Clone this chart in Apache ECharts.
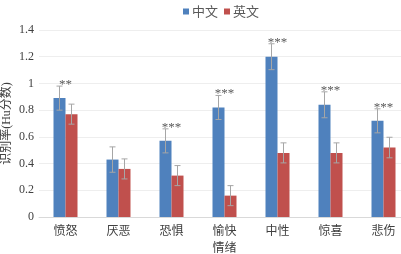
<!DOCTYPE html>
<html>
<head>
<meta charset="utf-8">
<script src="https://cdn.jsdelivr.net/npm/echarts@6/dist/echarts.min.js"></script>
<style>
  html, body { margin: 0; padding: 0; background: #fff; }
  #chart { width: 401px; height: 254px; }
</style>
</head>
<body>
<div id="chart"></div>
<script>
// categories and values
const categories = ['愤怒', '厌恶', '恐惧', '愉快', '中性', '惊喜', '悲伤']
const zhValues = [0.89, 0.43, 0.57, 0.82, 1.20, 0.84, 0.72]
const enValues = [0.77, 0.36, 0.31, 0.16, 0.48, 0.48, 0.52]
const zhErrors = [0.09, 0.095, 0.09, 0.09, 0.097, 0.097, 0.09]
const enErrors = [0.075, 0.075, 0.075, 0.075, 0.075, 0.075, 0.077]
const sigMarks = ['**', '', '***', '***', '***', '***', '***']

const serif = '"Liberation Serif", "Noto Sans CJK SC", serif'
const cjk = '"Noto Sans CJK SC", sans-serif'
const barWidth = 12

// draws an error bar (and optional star label) above one bar of the pair
function errorBars(values, errors, side, marks) {
  return {
    type: 'custom',
    silent: true,
    z: 5,
    data: values.map((v, i) => [i, v, errors[i]]),
    renderItem(params, api) {
      const i = api.value(0)
      const v = api.value(1)
      const e = api.value(2)
      const base = api.coord([i, v])
      const top = api.coord([i, v + e])
      const bottom = api.coord([i, v - e])
      const x = base[0] + side * barWidth / 2
      const cap = 3
      const children = [
        { type: 'line', shape: { x1: x, y1: top[1], x2: x, y2: bottom[1] }, style: { stroke: '#a6a6a6', lineWidth: 1 } },
        { type: 'line', shape: { x1: x - cap, y1: top[1], x2: x + cap, y2: top[1] }, style: { stroke: '#a6a6a6', lineWidth: 1 } },
        { type: 'line', shape: { x1: x - cap, y1: bottom[1], x2: x + cap, y2: bottom[1] }, style: { stroke: '#a6a6a6', lineWidth: 1 } }
      ]
      if (marks && marks[i]) {
        children.push({
          type: 'text',
          style: {
            text: marks[i],
            x: base[0],
            y: top[1] + 5,
            align: 'center',
            verticalAlign: 'bottom',
            fill: '#595959',
            font: '13px ' + serif
          }
        })
      }
      return { type: 'group', children }
    }
  }
}

const chart = echarts.init(document.getElementById('chart'))
chart.setOption({
  animation: false,
  legend: {
    data: ['中文', '英文'],
    top: 0,
    left: 178,
    itemWidth: 6,
    itemHeight: 6,
    itemGap: 6,
    icon: 'rect',
    textStyle: { color: '#595959', fontSize: 13, fontFamily: cjk, padding: [0, 0, 0, -2] }
  },
  grid: {
    left: 39,
    right: -9,
    top: 30,
    bottom: 37,
    outerBoundsMode: 'none'
  },
  xAxis: {
    type: 'category',
    data: categories,
    name: '情绪',
    nameLocation: 'middle',
    nameGap: 24,
    nameMoveOverlap: false,
    nameTextStyle: { color: '#404040', fontSize: 12, fontFamily: cjk },
    axisLine: { lineStyle: { color: '#d9d9d9' } },
    axisTick: { show: false },
    axisLabel: { color: '#404040', fontSize: 12, fontFamily: cjk, margin: 7 }
  },
  yAxis: {
    type: 'value',
    min: 0,
    max: 1.4,
    interval: 0.2,
    name: '识别率(Hu分数)',
    nameLocation: 'middle',
    nameGap: 26,
    nameMoveOverlap: false,
    nameTextStyle: { color: '#404040', fontSize: 12, fontFamily: serif },
    axisLine: { show: false },
    axisTick: { show: false },
    axisLabel: { color: '#404040', fontSize: 12, fontFamily: serif, margin: 5 },
    splitLine: { lineStyle: { color: '#eeeeee' } }
  },
  series: [
    {
      name: '中文',
      type: 'bar',
      data: zhValues,
      barWidth: barWidth,
      barGap: 0,
      itemStyle: { color: '#4f81bd' }
    },
    {
      name: '英文',
      type: 'bar',
      data: enValues,
      barWidth: barWidth,
      barGap: 0,
      itemStyle: { color: '#c0504d' }
    },
    errorBars(zhValues, zhErrors, -1, sigMarks),
    errorBars(enValues, enErrors, 1, null)
  ]
})
</script>
</body>
</html>
